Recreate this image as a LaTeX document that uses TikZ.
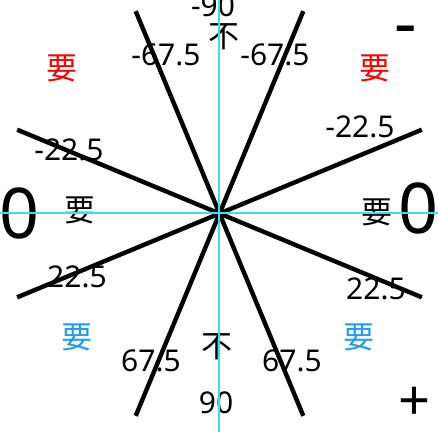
\documentclass[tikz,border=0pt]{standalone}
\usepackage{fontspec}
\setmainfont{Noto Sans}
\newfontfamily\cjk{Noto Sans CJK SC}
\usepackage{xcolor}
\definecolor{Want}{HTML}{FF0000}
\definecolor{Sky}{HTML}{1A9EF5}
\definecolor{Guide}{HTML}{30E4F4}
\usepackage{tikz}

\begin{document}
\begin{tikzpicture}[
    x=1pt,y=-1pt,
    ray/.style={line width=4.4pt,black},        % the four sector lines
    guide/.style={line width=1.2pt,Guide},      % cross hair
    num/.style={font=\fontsize{30}{36}\selectfont,inner sep=0pt},
    big/.style={font=\fontsize{70}{80}\selectfont,inner sep=0pt},
    zi/.style={font=\cjk\fontsize{31}{36}\selectfont,inner sep=0pt},
  ]
  \useasboundingbox (0,0) rectangle (438,432);
  \coordinate (o) at (219.5,213.5);
  \def\R{219}   % ray length from the centre

  % ---------- angle labels ----------
  \node[num] (m90)  at (213,6)   {-90};
  \node[num] (m67l) at (166,55)  {-67.5};
  \node[num] (m67r) at (275,55)  {-67.5};
  \node[num] (m22l) at (69,150)  {-22.5};
  \node[num] (m22r) at (360,127) {-22.5};
  \node[num] (p22l) at (77,277)  {22.5};
  \node[num] (p22r) at (376,289) {22.5};
  \node[num] (p67l) at (151,361) {67.5};
  \node[num] (p67r) at (292,361) {67.5};
  \node[num] (p90)  at (216,403) {90};

  % ---------- big signs at the edges ----------
  \node[big] (zl)    at (20,213)  {0};
  \node[big] (zr)    at (419,208) {0};
  \node[big] (minus) at (406,37)  {-};
  \node[big,font=\fontsize{56}{60}\selectfont] (plus) at (415,404) {+};

  % ---------- characters ----------
  \node[zi,Want] (yaoNW) at (62,68)   {要};
  \node[zi,Want] (yaoNE) at (375,68)  {要};
  \node[zi]      (yaoW)  at (80,210)  {要};
  \node[zi]      (yaoE)  at (377,212) {要};
  \node[zi,Sky]  (yaoSW) at (77,337)  {要};
  \node[zi,Sky]  (yaoSE) at (359,337) {要};
  \node[zi]      (buN)   at (224,37)  {不};
  \node[zi]      (buS)   at (217,347) {不};

  % ---------- rays through the centre ----------
  \foreach \a in {-67.5,-22.5,22.5,67.5}
    \draw[ray] (o) ++(\a:\R) -- ++(\a+180:2*\R);

  % ---------- cross hair ----------
  \draw[guide] (219,0) -- (219,432);
  \draw[guide] (0,213) -- (438,213);
\end{tikzpicture}
\end{document}
